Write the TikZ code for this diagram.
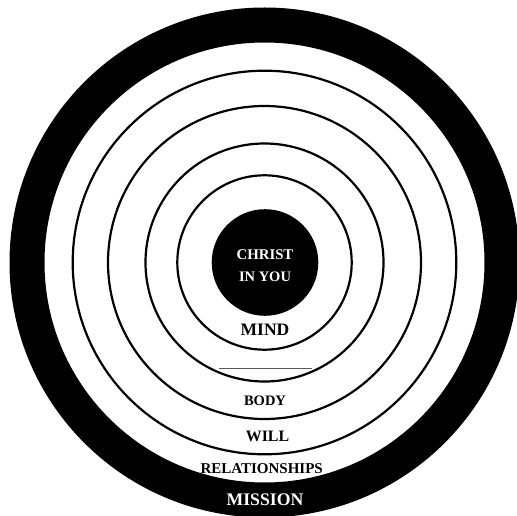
\documentclass[tikz,border=0pt]{standalone}
\usepackage{fontspec}
\setmainfont{Liberation Serif}
\begin{document}
\begin{tikzpicture}[x=1pt,y=-1pt,
  ring/.style={draw=black,line width=2.2pt},
  lbl/.style={font=\bfseries,text=black,inner sep=0pt},
  wlbl/.style={font=\bfseries,text=white,inner sep=0pt}]
\useasboundingbox (0,0) rectangle (517,516);
\begin{scope}
\clip (0,0) rectangle (517,516);
\coordinate (c) at (264.5,262.5);
% outer black ring
\fill[black,even odd rule] (c) circle[radius=255] (c) circle[radius=220];
% thin rings
\draw[ring] (c) circle[radius=191.8];
\draw[ring] (c) circle[radius=156.5];
\draw[ring] (c) circle[radius=119];
\draw[ring] (c) circle[radius=87.2];
% centre disc
\fill[black] (265,262.5) circle[radius=53.3];
\end{scope}
% separator line
\coordinate (la) at (218.5,368.5);
\coordinate (lb) at (311.5,368.5);
\draw[gray!70!black,line width=0.9pt] (la) -- (lb);
% labels
\node[wlbl,font=\bfseries\fontsize{14.8}{16}\selectfont] (christ) at (265,255) {CHRIST};
\node[wlbl,font=\bfseries\fontsize{14.5}{16}\selectfont] (inyou) at (265,277) {IN YOU};
\node[lbl,font=\bfseries\fontsize{17.5}{19}\selectfont] (mind) at (265,329.5) {MIND};
\node[lbl,font=\bfseries\fontsize{14.5}{16}\selectfont] (body) at (265,401) {BODY};
\node[lbl,font=\bfseries\fontsize{15.9}{17}\selectfont] (will) at (267.5,436.7) {WILL};
\node[lbl,font=\bfseries\fontsize{15}{16}\selectfont] (rel) at (261.7,468.3) {RELATIONSHIPS};
\node[wlbl,font=\bfseries\fontsize{17.7}{19}\selectfont] (mission) at (265,500) {MISSION};
\end{tikzpicture}
\end{document}
